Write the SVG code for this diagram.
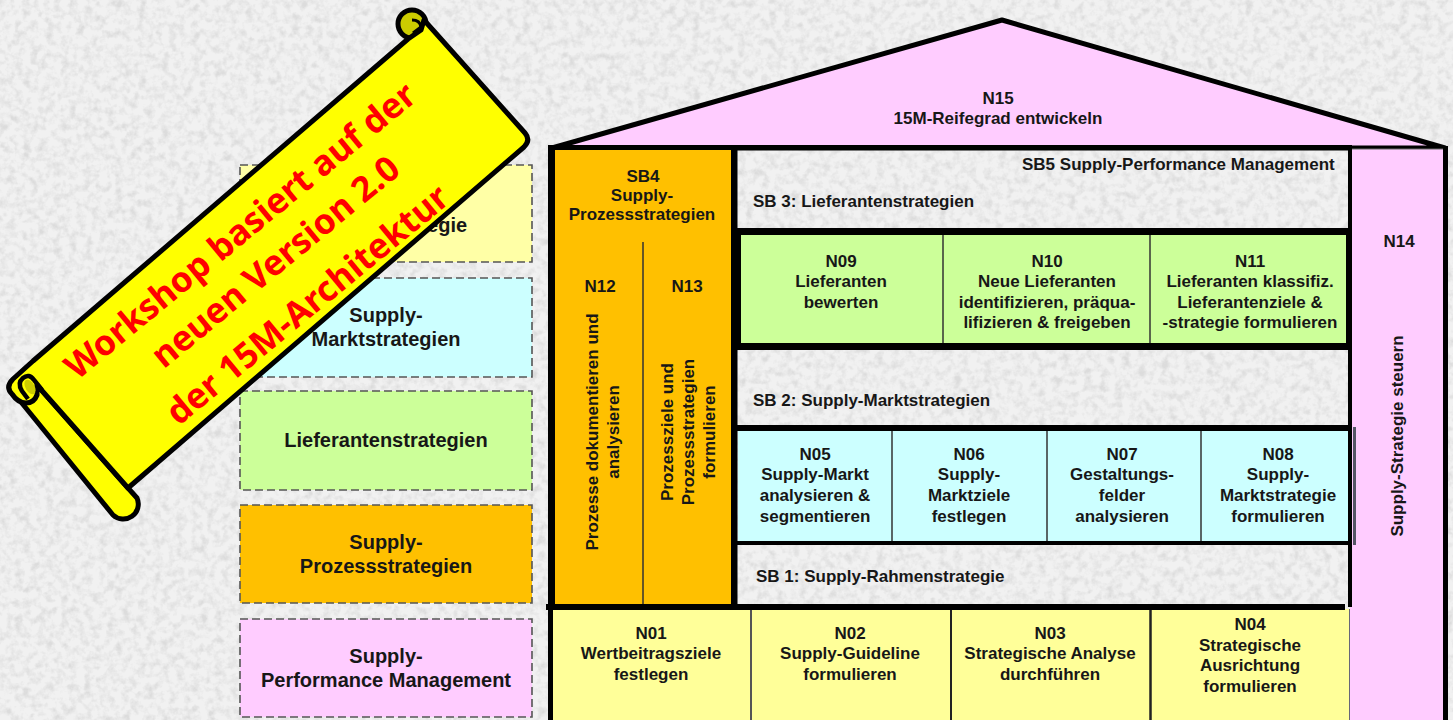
<svg xmlns="http://www.w3.org/2000/svg" width="1453" height="720" viewBox="0 0 1453 720">
<style>
.t{font-family:"Liberation Sans",Arial,sans-serif;font-weight:700;font-size:17px;fill:#171717;text-anchor:middle}
.l{font-size:20px}
.s{text-anchor:start}
.lb{stroke:#555;stroke-width:1.6;stroke-dasharray:8 4}
.bar{fill:none;stroke:#000;stroke-linecap:butt}
.div{stroke:#333;stroke-width:1.5}
.ban{stroke:#000;stroke-width:5;stroke-linejoin:round}
.r{font-family:"Noto Sans","Open Sans",sans-serif;font-weight:700;font-size:35px;fill:#f00;text-anchor:middle}
</style>
<defs>
<filter id="tex" x="0" y="0" width="100%" height="100%">
<feTurbulence type="fractalNoise" baseFrequency="0.13" numOctaves="3" seed="4"/>
<feColorMatrix values="0 0 0 0 0.55  0 0 0 0 0.55  0 0 0 0 0.55  2 1.5 0 0 -1.55"/>
</filter>
</defs>
<rect id="background" width="1453" height="720" fill="#f1f1f1"/>
<rect width="1453" height="720" filter="url(#tex)" opacity="0.45"/>

<g id="legend-rahmen"><rect class="lb" x="240" y="165" width="292" height="97" fill="#ffffa6"/><text class="t l" x="386" y="208">Supply-</text><text class="t l" x="386" y="232">Rahmenstrategie</text></g>
<g id="legend-markt"><rect class="lb" x="240" y="278" width="292" height="99" fill="#ccffff"/><text class="t l" x="386" y="322">Supply-</text><text class="t l" x="386" y="346">Marktstrategien</text></g>
<g id="legend-lieferanten"><rect class="lb" x="240" y="391" width="292" height="99" fill="#ccff99"/><text class="t l" x="386" y="447">Lieferantenstrategien</text></g>
<g id="legend-prozess"><rect class="lb" x="240" y="505" width="292" height="98" fill="#ffc000"/><text class="t l" x="386" y="549">Supply-</text><text class="t l" x="386" y="573">Prozessstrategien</text></g>
<g id="legend-performance"><rect class="lb" x="240" y="619" width="292" height="98" fill="#ffccff"/><text class="t l" x="386" y="663">Supply-</text><text class="t l" x="386" y="687">Performance Management</text></g>

<g id="N15"><path d="M552 148 L1002 20 L1445 148Z" fill="#ffccff" stroke="#000" stroke-width="5" stroke-linejoin="round"/><text class="t" x="998" y="104">N15</text><text class="t" x="998" y="124">15M-Reifegrad entwickeln</text></g>
<g id="N14"><rect x="1350" y="149" width="95" height="571" fill="#ffccff"/><line x1="1352" y1="149" x2="1443" y2="149" stroke="#666" stroke-width="1"/><text class="t" x="1399" y="247">N14</text><text class="t" transform="translate(1403 436) rotate(-90)">Supply-Strategie steuern</text></g>

<g id="SB4"><rect x="553" y="148" width="180" height="458" fill="#ffc000"/><text class="t" x="643" y="182">SB4</text><text class="t" x="642" y="201">Supply-</text><text class="t" x="642" y="220">Prozessstrategien</text><line class="div" x1="643" y1="242" x2="643" y2="606"/></g>
<g id="N12"><text class="t" x="600" y="292">N12</text><text class="t" transform="translate(598 432) rotate(-90)">Prozesse dokumentieren und</text><text class="t" transform="translate(619 432) rotate(-90)">analysieren</text></g>
<g id="N13"><text class="t" x="687" y="292">N13</text><text class="t" transform="translate(673 432) rotate(-90)">Prozessziele und</text><text class="t" transform="translate(694 432) rotate(-90)">Prozessstrategien</text><text class="t" transform="translate(715 432) rotate(-90)">formulieren</text></g>

<g id="SB5"><text class="t s" x="1022" y="170">SB5 Supply-Performance Management</text></g>
<g id="SB3"><text class="t s" x="753" y="207">SB 3: Lieferantenstrategien</text></g>
<g id="SB2"><text class="t s" x="753" y="406">SB 2: Supply-Marktstrategien</text></g>
<g id="SB1"><text class="t s" x="756" y="582">SB 1: Supply-Rahmenstrategie</text></g>

<rect x="741" y="235" width="605" height="110" fill="#ccff99"/>
<g id="N09"><text class="t" x="841" y="267">N09</text><text class="t" x="841" y="287">Lieferanten</text><text class="t" x="841" y="308">bewerten</text></g>
<g id="N10"><text class="t" x="1047" y="267">N10</text><text class="t" x="1047" y="287">Neue Lieferanten</text><text class="t" x="1047" y="308">identifizieren, präqua-</text><text class="t" x="1047" y="328">lifizieren &amp; freigeben</text></g>
<g id="N11"><text class="t" x="1250" y="267">N11</text><text class="t" x="1250" y="287">Lieferanten klassifiz.</text><text class="t" x="1250" y="308">Lieferantenziele &amp;</text><text class="t" x="1250" y="328">-strategie formulieren</text></g>

<rect x="738" y="430" width="612" height="113" fill="#ccffff"/>
<g id="N05"><text class="t" x="815" y="460">N05</text><text class="t" x="815" y="480">Supply-Markt</text><text class="t" x="815" y="501">analysieren &amp;</text><text class="t" x="815" y="522">segmentieren</text></g>
<g id="N06"><text class="t" x="969" y="460">N06</text><text class="t" x="969" y="480">Supply-</text><text class="t" x="969" y="501">Marktziele</text><text class="t" x="969" y="522">festlegen</text></g>
<g id="N07"><text class="t" x="1122" y="460">N07</text><text class="t" x="1122" y="480">Gestaltungs-</text><text class="t" x="1122" y="501">felder</text><text class="t" x="1122" y="522">analysieren</text></g>
<g id="N08"><text class="t" x="1278" y="460">N08</text><text class="t" x="1278" y="480">Supply-</text><text class="t" x="1278" y="501">Marktstrategie</text><text class="t" x="1278" y="522">formulieren</text></g>

<rect x="553" y="609" width="796" height="111" fill="#ffff99"/>
<g id="N01"><text class="t" x="651" y="639">N01</text><text class="t" x="651" y="659">Wertbeitragsziele</text><text class="t" x="651" y="680">festlegen</text></g>
<g id="N02"><text class="t" x="850" y="639">N02</text><text class="t" x="850" y="659">Supply-Guideline</text><text class="t" x="850" y="680">formulieren</text></g>
<g id="N03"><text class="t" x="1050" y="639">N03</text><text class="t" x="1050" y="659">Strategische Analyse</text><text class="t" x="1050" y="680">durchführen</text></g>
<g id="N04"><text class="t" x="1250" y="630">N04</text><text class="t" x="1250" y="651">Strategische</text><text class="t" x="1250" y="671">Ausrichtung</text><text class="t" x="1250" y="692">formulieren</text></g>

<g id="connectors">
<line class="div" x1="943" y1="235" x2="943" y2="345"/><line class="div" x1="1150" y1="235" x2="1150" y2="345"/>
<line class="div" x1="892" y1="430" x2="892" y2="543"/><line class="div" x1="1047" y1="430" x2="1047" y2="543"/><line class="div" x1="1201" y1="430" x2="1201" y2="543"/>
<line x1="751" y1="609" x2="751" y2="720" stroke="#555" stroke-width="2"/><line x1="951" y1="609" x2="951" y2="720" stroke="#222" stroke-width="2"/><line x1="1150.500" y1="609" x2="1150.500" y2="720" stroke="#222" stroke-width="2.500"/>
<line x1="1349.500" y1="609" x2="1349.500" y2="720" stroke="#667" stroke-width="1"/>
<path class="bar" stroke-width="5" d="M548 147.500H1352"/>
<path class="bar" stroke-width="7" d="M551.500 145V604"/>
<path class="bar" stroke-width="5" d="M550.500 604V720"/>
<path class="bar" stroke-width="5" d="M1445.500 146V720"/>
<path class="bar" stroke-width="4" d="M1350 145V607"/>
<path class="bar" stroke-width="6.500" d="M734.250 148V610"/>
<path class="bar" stroke-width="6" d="M546 607H1345"/>
<path class="bar" stroke-width="7" d="M736 231.500H1352M736 346.500H1352"/>
<path class="bar" stroke-width="6" d="M736 428H1352"/>
<path class="bar" stroke-width="4" d="M736 543H1352"/>
<path class="bar" stroke-width="4" d="M739 232V347"/>
<path class="bar" stroke-width="6" d="M1349 232V347"/>
<path class="bar" stroke-width="3" d="M1354.500 427V545" style="stroke:#556"/>
</g>

<g id="banner">
<path class="ban" d="M21 402 L113 515 A15 15 0 0 0 137 498 L128 488 L37 385Z" fill="#ff0"/>
<circle class="ban" cx="412" cy="24" r="14" fill="#cc0"/>
<path d="M412 20 Q420 20 421 27 L413 33" stroke="#000" stroke-width="3" fill="none"/>
<path class="ban" d="M408 39 L33 361 L13 379 Q5 387 12 394 Q18 403 26 403 Q34 403 37 395 L37 385 L128 488 L524 147 Q531 140 525 133 L424 20 L421 30Z" fill="#ff0"/>
<ellipse cx="30" cy="387" rx="4.500" ry="8" transform="rotate(-30 30 387)" fill="#cc0"/>
<path d="M42 390 L34 380 Q29 373 23 378 Q17 383 22 391 L28 399" stroke="#000" stroke-width="4.500" fill="none"/>
<text class="r" transform="translate(248 240) rotate(-39.500)">Workshop basiert auf der</text>
<text class="r" transform="translate(283 271) rotate(-39.500)">neuen Version 2.0</text>
<text class="r" transform="translate(315 314) rotate(-39.500)">der 15M-Architektur</text>
</g>
</svg>
